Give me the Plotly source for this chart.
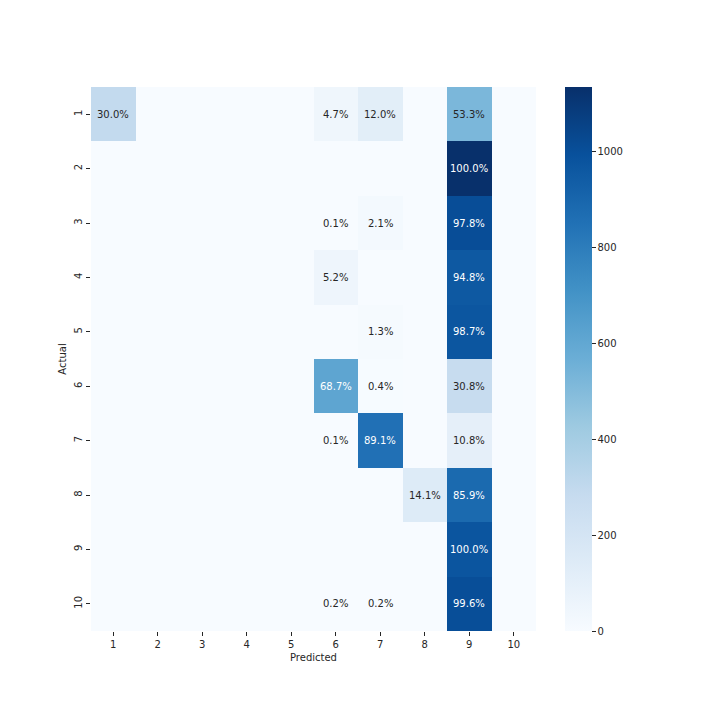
import plotly.graph_objects as go

labels = ["1", "2", "3", "4", "5", "6", "7", "8", "9", "10"]
# counts[row=actual][col=predicted]
counts = [
    [294, 0, 0, 0, 0, 46, 118, 0, 522, 0],
    [0, 0, 0, 0, 0, 0, 0, 0, 1135, 0],
    [0, 0, 0, 0, 0, 1, 22, 0, 1009, 0],
    [0, 0, 0, 0, 0, 53, 0, 0, 957, 0],
    [0, 0, 0, 0, 0, 0, 13, 0, 969, 0],
    [0, 0, 0, 0, 0, 613, 4, 0, 275, 0],
    [0, 0, 0, 0, 0, 1, 854, 0, 103, 0],
    [0, 0, 0, 0, 0, 0, 0, 145, 883, 0],
    [0, 0, 0, 0, 0, 0, 0, 0, 974, 0],
    [0, 0, 0, 0, 0, 2, 2, 0, 1005, 0],
]
cbar_ticks = [0, 200, 400, 600, 800, 1000]

blues = ["#f7fbff", "#deebf7", "#c6dbef", "#9ecae1", "#6baed6",
         "#4292c6", "#2171b5", "#08519c", "#08306b"]
cscale = [[i / (len(blues) - 1), c] for i, c in enumerate(blues)]
zmax = max(max(r) for r in counts)
idx = list(range(len(labels)))

L, R, T, B = 83, 192, 79, 97
plot_w = 720 - L - R

fig = go.Figure()
fig.add_trace(go.Heatmap(
    z=counts, x=idx, y=idx,
    colorscale=cscale, zmin=0, zmax=zmax,
    xgap=0, ygap=0, hoverinfo="skip",
    colorbar=dict(
        thickness=27, len=1, lenmode="fraction",
        x=(564 - 7 - L) / plot_w, xanchor="left", xpad=0,
        y=0.5, yanchor="middle", ypad=0,
        outlinewidth=0, tickvals=cbar_ticks,
        ticks="outside", ticklen=4, tickcolor="#262626",
        tickfont=dict(family="DejaVu Sans", size=10, color="#262626"),
    ),
))

for i, row in enumerate(counts):
    tot = sum(row)
    for j, v in enumerate(row):
        if v == 0:
            continue
        pct = 100.0 * v / tot
        col = "white" if v > 560 else "#262626"
        fig.add_annotation(
            x=j, y=i, text=f"{pct:.1f}%", showarrow=False,
            font=dict(family="DejaVu Sans", size=10, color=col),
        )

axis_font = dict(family="DejaVu Sans", size=10, color="#262626")
fig.update_layout(
    width=720, height=720,
    margin=dict(l=L, r=R, t=T, b=B),
    paper_bgcolor="white", plot_bgcolor="white",
    xaxis=dict(title=dict(text="Predicted", font=axis_font, standoff=4),
               tickmode="array", tickvals=idx, ticktext=labels,
               range=[-0.5, len(labels) - 0.5], automargin=False,
               tickfont=axis_font, ticks="outside", ticklen=4,
               tickcolor="#262626", showgrid=False, zeroline=False,
               showline=False),
    yaxis=dict(title=dict(text="Actual", font=axis_font, standoff=4),
               tickmode="array", tickvals=idx, ticktext=labels,
               range=[len(labels) - 0.5, -0.5], automargin=False,
               tickfont=axis_font, ticks="outside", ticklen=4,
               tickcolor="#262626", tickangle=-90,
               showgrid=False, zeroline=False, showline=False),
)

fig.write_html("out.html")
